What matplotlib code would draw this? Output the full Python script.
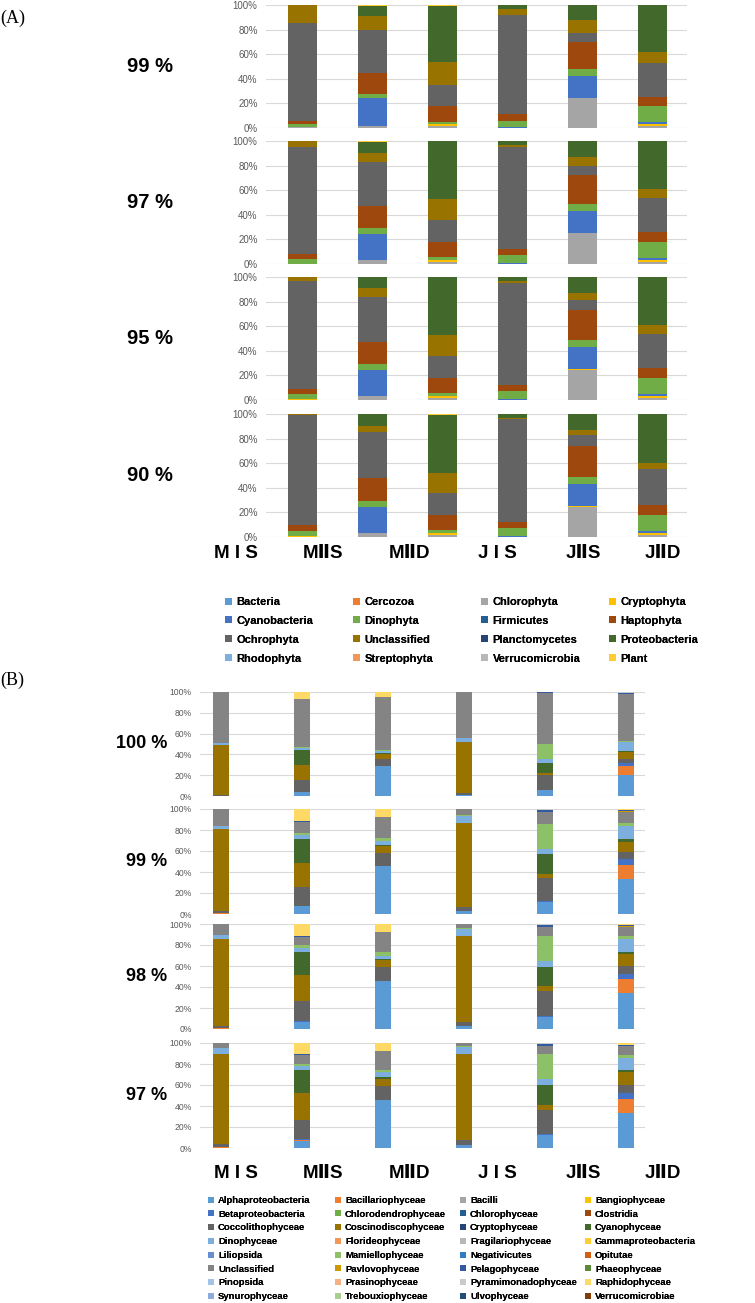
import matplotlib.pyplot as plt
from matplotlib.patches import Patch
import numpy as np

W, H = 755, 1303

sites = ["M I S", "MⅡS", "MⅡD", "J I S", "JⅡS", "JⅡD"]

# (A) phylum level
phyla = ["Bacteria", "Cercozoa", "Chlorophyta", "Cryptophyta",
         "Cyanobacteria", "Dinophyta", "Firmicutes", "Haptophyta",
         "Ochrophyta", "Unclassified", "Planctomycetes", "Proteobacteria",
         "Rhodophyta", "Streptophyta", "Verrucomicrobia", "Plant"]
phyla_colors = ["#5B9BD5", "#ED7D31", "#A5A5A5", "#FFC000",
                "#4472C4", "#70AD47", "#255E91", "#9E480E",
                "#636363", "#997300", "#264478", "#43682B",
                "#7CAFDD", "#F1975A", "#B7B7B7", "#FFCD33"]

a_99 = {
    "Chlorophyta":    [0.5, 2, 2, 0, 24, 2],
    "Cryptophyta":    [0, 0, 1, 0, 0, 1],
    "Cyanobacteria":  [0, 22, 0, 1, 18, 2],
    "Dinophyta":      [3, 4, 2, 5, 6, 13],
    "Haptophyta":     [2.5, 17, 13, 5, 22, 7],
    "Ochrophyta":     [79, 35, 17, 81, 7, 28],
    "Unclassified":   [15, 11, 19, 5, 11, 9],
    "Proteobacteria": [0, 8.5, 45.5, 3, 12, 38],
    "Plant":          [0, 0.5, 0.5, 0, 0, 0],
}
a_97 = {
    "Chlorophyta":    [0, 3, 2, 0, 25, 2],
    "Cryptophyta":    [0, 0, 1, 0, 0, 1],
    "Cyanobacteria":  [0, 21, 0, 1, 18, 2],
    "Dinophyta":      [4, 5, 3, 6, 6, 13],
    "Haptophyta":     [4, 18, 12, 5, 23, 8],
    "Ochrophyta":     [87, 36, 18, 83, 8, 28],
    "Unclassified":   [5, 7, 17, 2, 7, 7],
    "Proteobacteria": [0, 9.5, 47, 3, 13, 39],
    "Plant":          [0, 0.5, 0, 0, 0, 0],
}
a_95 = {
    "Chlorophyta":    [0, 3, 2, 0, 24, 2],
    "Cryptophyta":    [1, 0, 1, 0, 1, 1],
    "Cyanobacteria":  [0, 21, 0, 1, 18, 2],
    "Dinophyta":      [4, 5, 3, 6, 6, 13],
    "Haptophyta":     [4, 18, 12, 5, 24, 8],
    "Ochrophyta":     [88, 37, 18, 83, 8, 28],
    "Unclassified":   [3, 7, 17, 2, 6, 7],
    "Proteobacteria": [0, 9, 47, 3, 13, 39],
}
a_90 = {
    "Chlorophyta":    [0, 3, 2, 0, 24, 2],
    "Cryptophyta":    [1, 0, 1, 0, 1, 1],
    "Cyanobacteria":  [0, 21, 0, 1, 18, 2],
    "Dinophyta":      [4, 5, 3, 6, 6, 13],
    "Haptophyta":     [5, 19, 12, 5, 25, 8],
    "Ochrophyta":     [89.5, 37, 18, 84, 9, 29],
    "Unclassified":   [0.5, 5, 16, 1, 4, 5],
    "Proteobacteria": [0, 10, 47.5, 3, 13, 40],
    "Plant":          [0, 0, 0.5, 0, 0, 0],
}

# (B) class level
classes = ["Alphaproteobacteria", "Bacillariophyceae", "Bacilli", "Bangiophyceae",
           "Betaproteobacteria", "Chlorodendrophyceae", "Chlorophyceae", "Clostridia",
           "Coccolithophyceae", "Coscinodiscophyceae", "Cryptophyceae", "Cyanophyceae",
           "Dinophyceae", "Florideophyceae", "Fragilariophyceae", "Gammaproteobacteria",
           "Liliopsida", "Mamiellophyceae", "Negativicutes", "Opitutae",
           "Unclassified", "Pavlovophyceae", "Pelagophyceae", "Phaeophyceae",
           "Pinopsida", "Prasinophyceae", "Pyramimonadophyceae", "Raphidophyceae",
           "Synurophyceae", "Trebouxiophyceae", "Ulvophyceae", "Verrucomicrobiae"]
class_colors = ["#5B9BD5", "#ED7D31", "#A5A5A5", "#FFC000",
                "#4472C4", "#70AD47", "#255E91", "#9E480E",
                "#636363", "#997300", "#264478", "#43682B",
                "#7CAFDD", "#F1975A", "#B7B7B7", "#FFCD33",
                "#698ED0", "#8CC168", "#327DC2", "#D26012",
                "#848484", "#CC9A00", "#335AA1", "#5A8A39",
                "#A2C4E6", "#F4B183", "#C9C9C9", "#FFD966",
                "#8FAADC", "#A9D18E", "#1F4E79", "#843C0C"]

b_100 = {
    "Alphaproteobacteria": [0, 4, 29, 1, 6, 20],
    "Bacillariophyceae":   [0, 0, 0, 0, 0, 9],
    "Betaproteobacteria":  [0, 0, 0, 0, 0, 3],
    "Coccolithophyceae":   [1, 11, 7, 2, 14, 4],
    "Coscinodiscophyceae": [48, 15, 4, 49, 2, 6],
    "Cyanophyceae":        [0, 14, 1, 0, 10, 1],
    "Dinophyceae":         [2, 2, 2, 4, 4, 9],
    "Mamiellophyceae":     [0, 1, 1, 0, 14, 1],
    "Unclassified":        [49, 46, 51, 44, 49, 45],
    "Pelagophyceae":       [0, 0, 0, 0, 1, 1],
    "Pyramimonadophyceae": [0, 0, 0, 0, 0, 1],
    "Raphidophyceae":      [0, 7, 5, 0, 0, 0],
}
b_99 = {
    "Alphaproteobacteria": [0, 8, 46, 3, 11, 33],
    "Bacillariophyceae":   [0.5, 0, 0, 0, 0, 14],
    "Betaproteobacteria":  [0, 0, 0, 0, 1, 5],
    "Coccolithophyceae":   [2.5, 18, 12, 4, 22, 7],
    "Coscinodiscophyceae": [78, 23, 7, 80, 4, 10],
    "Cyanophyceae":        [0, 22, 1, 0, 19, 2],
    "Dinophyceae":         [3, 4, 4, 6, 5, 13],
    "Mamiellophyceae":     [0, 2, 2, 1, 24, 3],
    "Unclassified":        [16, 11, 20, 6, 11, 10],
    "Pavlovophyceae":      [0, 0, 0, 0, 0, 1],
    "Pelagophyceae":       [0, 1, 0, 0, 2, 1],
    "Pyramimonadophyceae": [0, 0, 0, 0, 1, 0],
    "Raphidophyceae":      [0, 11, 8, 0, 0, 1],
}
b_98 = {
    "Alphaproteobacteria": [0, 7, 46, 3, 11, 34],
    "Bacillariophyceae":   [0.5, 0, 0, 0, 0, 14],
    "Betaproteobacteria":  [0, 1, 0, 0, 1, 4],
    "Coccolithophyceae":   [2.5, 19, 13, 4, 24, 8],
    "Coscinodiscophyceae": [83, 24, 7, 82, 5, 11],
    "Cyanophyceae":        [0, 22, 1, 0, 18, 2],
    "Dinophyceae":         [4, 4, 3, 6, 6, 13],
    "Mamiellophyceae":     [0, 3, 3, 1, 24, 3],
    "Unclassified":        [10, 8, 19, 4, 8, 8],
    "Pavlovophyceae":      [0, 0, 0, 0, 0, 1.5],
    "Pelagophyceae":       [0, 1, 0, 0, 2, 1],
    "Pyramimonadophyceae": [0, 0, 0, 0, 1, 0],
    "Raphidophyceae":      [0, 11, 8, 0, 0, 0.5],
}
b_97 = {
    "Alphaproteobacteria": [0, 7, 46, 3, 12, 33],
    "Bacillariophyceae":   [0.5, 1, 0, 0, 0, 14],
    "Betaproteobacteria":  [0, 1, 0, 0, 1, 5],
    "Clostridia":          [0.5, 0, 0, 0, 0, 0],
    "Coccolithophyceae":   [3, 18, 13, 5, 23, 8],
    "Coscinodiscophyceae": [86, 25, 7, 82, 5, 12],
    "Cyanophyceae":        [0, 22, 2, 0, 19, 2],
    "Dinophyceae":         [5, 4, 4, 6, 6, 12],
    "Mamiellophyceae":     [0, 2, 2, 1, 24, 3],
    "Unclassified":        [5, 9, 18, 3, 7, 8],
    "Pelagophyceae":       [0, 1, 0, 0, 2.5, 1],
    "Pyramimonadophyceae": [0, 0, 0, 0, 0.5, 0],
    "Raphidophyceae":      [0, 10, 8, 0, 0, 2],
}

a_panels = [("99 %", a_99), ("97 %", a_97), ("95 %", a_95), ("90 %", a_90)]
b_panels = [("100 %", b_100), ("99 %", b_99), ("98 %", b_98), ("97 %", b_97)]

BOLD = ["Liberation Sans", "DejaVu Sans"]


def px_rect(left, top, right, bottom):
    return [left / W, 1 - bottom / H, (right - left) / W, (bottom - top) / H]


def stacked_panel(ax, panel, names, colors, width, xlim, tick_size):
    x = np.arange(len(sites))
    base = np.zeros(len(sites))
    for name, color in zip(names, colors):
        if name not in panel:
            continue
        vals = np.array(panel[name], dtype=float)
        ax.bar(x, vals, width, bottom=base, color=color, linewidth=0, zorder=2)
        base += vals
    ax.set_xlim(*xlim)
    ax.set_ylim(0, 100)
    ax.set_xticks([])
    ax.set_yticks(range(0, 101, 20))
    ax.set_yticklabels([f"{v}%" for v in range(0, 101, 20)],
                       fontsize=tick_size, color="#595959", family="Liberation Sans")
    ax.tick_params(axis="y", length=0, pad=6)
    ax.yaxis.grid(True, color="#D9D9D9", linewidth=0.8, zorder=0)
    ax.set_axisbelow(True)
    for s in ax.spines.values():
        s.set_visible(False)
    ax.patch.set_alpha(0)


def column_legends(fig, names, colors, xs, y_top, fontsize, spacing):
    handles = [Patch(facecolor=c, edgecolor="none") for c in colors]
    for c, x0 in enumerate(xs):
        leg = fig.legend(handles[c::4], names[c::4], loc="upper left",
                         bbox_to_anchor=(x0 / W, 1 - y_top / H),
                         frameon=False, borderpad=0,
                         borderaxespad=0, handlelength=0.6, handleheight=0.6,
                         handletextpad=0.45, labelspacing=spacing,
                         prop={"family": "Liberation Sans", "weight": "bold",
                               "size": fontsize})
        fig.add_artist(leg)


fig = plt.figure(figsize=(W / 100, H / 100), dpi=100)

# ---- panel (A)
a_rows = [(5, 128), (141, 264), (277, 400), (414, 537)]
for (label, panel), (top, bottom) in zip(a_panels, a_rows):
    ax = fig.add_axes(px_rect(266, top, 687, bottom))
    stacked_panel(ax, panel, phyla, phyla_colors, 0.41, (-0.52, 5.49), 7)
    fig.text(173 / W, 1 - (top + bottom) / 2 / H, label, ha="right", va="center",
             fontsize=14.5, fontweight="bold", family=BOLD)

label_x = [236, 323, 410, 497, 583, 663]
for name, x0 in zip(sites, label_x):
    fig.text(x0 / W, 1 - 553 / H, name, ha="center", va="center",
             fontsize=13.5, fontweight="bold", family=BOLD)

column_legends(fig, phyla, phyla_colors, [225, 353, 481, 609], 597, 8, 0.8)

# ---- panel (B)
b_rows = [(692, 796), (809, 914), (924, 1029), (1043, 1148)]
for (label, panel), (top, bottom) in zip(b_panels, b_rows):
    ax = fig.add_axes(px_rect(200, top, 645, bottom))
    stacked_panel(ax, panel, classes, class_colors, 0.2, (-0.26, 5.23), 6.2)
    fig.text(167 / W, 1 - (top + bottom) / 2 / H, label, ha="right", va="center",
             fontsize=13, fontweight="bold", family=BOLD)

for name, x0 in zip(sites, label_x):
    fig.text(x0 / W, 1 - 1173 / H, name, ha="center", va="center",
             fontsize=13.5, fontweight="bold", family=BOLD)

column_legends(fig, classes, class_colors, [208, 335, 460, 585], 1196, 6.8, 0.5)

fig.text(0.0, 1 - 18 / H, "(A)", ha="left", va="center", fontsize=13,
         family="Liberation Serif")
fig.text(0.0, 1 - 680 / H, "(B)", ha="left", va="center", fontsize=13,
         family="Liberation Serif")

fig.savefig("out.png", dpi=100)
